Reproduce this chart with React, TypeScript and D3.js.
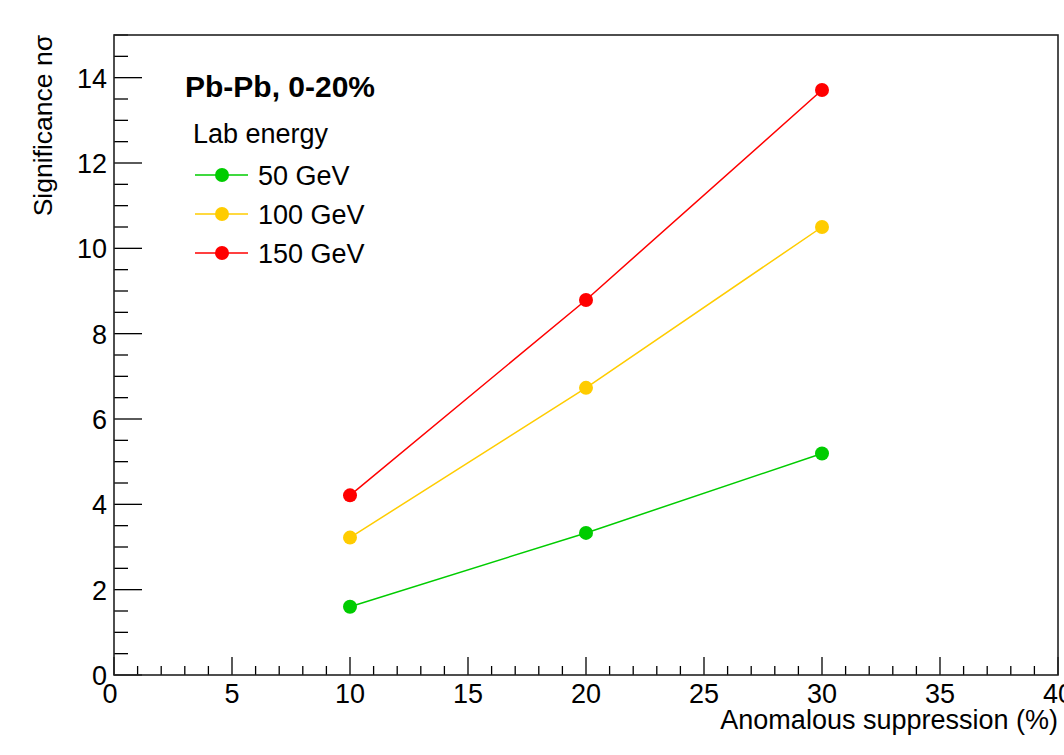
import React from "react";
import * as d3 from "d3";

const suppression = [10, 20, 30];
const sig50 = [1.6, 3.33, 5.19];
const sig100 = [3.22, 6.73, 10.5];
const sig150 = [4.21, 8.79, 13.71];
const seriesNames = ["50 GeV", "100 GeV", "150 GeV"];
const seriesColors = ["#00cc00", "#ffcc00", "#ff0000"];
const xTicks = [0, 5, 10, 15, 20, 25, 30, 35, 40];
const yTicks = [0, 2, 4, 6, 8, 10, 12, 14];

const W = 1064;
const H = 755;
const L = 114, R = 1058, T = 35, B = 675;
const FONT = "'Liberation Sans', Arial, Helvetica, sans-serif";

export default function App() {
  const x = d3.scaleLinear().domain([0, 40]).range([L, R]);
  const y = d3.scaleLinear().domain([0, 15]).range([B, T]);
  const series = [sig50, sig100, sig150];
  const line = d3
    .line<number>()
    .x((_, i) => x(suppression[i]))
    .y((d) => y(d));

  const xMinor = d3.range(0, 40.001, 1);
  const yMinor = d3.range(0, 15.001, 0.5);

  return (
    <svg
      width={W}
      height={H}
      style={{ position: "absolute", left: 0, top: 0, background: "#fff" }}
      fontFamily={FONT}
    >
      <rect x={0} y={0} width={W} height={H} fill="#fff" />
      {/* ticks */}
      {xMinor.map((v) => {
        const major = v % 5 === 0;
        return (
          <line
            key={"xt" + v}
            x1={x(v)}
            x2={x(v)}
            y1={B}
            y2={B - (major ? 18 : 9)}
            stroke="#000"
            strokeWidth={1.3}
          />
        );
      })}
      {yMinor.map((v) => {
        const major = Math.abs(v % 2) < 1e-6;
        return (
          <line
            key={"yt" + v}
            x1={L}
            x2={L + (major ? 28 : 14)}
            y1={y(v)}
            y2={y(v)}
            stroke="#000"
            strokeWidth={1.3}
          />
        );
      })}
      {/* frame */}
      <rect x={L} y={T} width={R - L} height={B - T} fill="none" stroke="#222" strokeWidth={1.6} />
      {/* tick labels */}
      {xTicks.map((v) => (
        <text
          key={"xl" + v}
          x={x(v) - (v === 0 ? 4 : 0)}
          y={703}
          fontSize={27}
          textAnchor="middle"
          fill="#000"
        >
          {v}
        </text>
      ))}
      {yTicks.map((v) => (
        <text
          key={"yl" + v}
          x={107}
          y={y(v) + 10}
          fontSize={27}
          textAnchor="end"
          fill="#000"
        >
          {v}
        </text>
      ))}
      {/* axis titles */}
      <text x={R} y={729} fontSize={27} textAnchor="end" fill="#000">
        Anomalous suppression (%)
      </text>
      <text
        transform={`translate(52,${T}) rotate(-90)`}
        fontSize={26.5}
        textAnchor="end"
        fill="#000"
      >
        Significance nσ
      </text>
      {/* series */}
      {series.map((s, k) => (
        <g key={"s" + k}>
          <path d={line(s) || ""} fill="none" stroke={seriesColors[k]} strokeWidth={1.5} />
          {s.map((v, i) => (
            <circle key={i} cx={x(suppression[i])} cy={y(v)} r={7} fill={seriesColors[k]} />
          ))}
        </g>
      ))}
      {/* legend */}
      <text x={185} y={97} fontSize={30} fontWeight="bold" fill="#000">
        Pb-Pb, 0-20%
      </text>
      <text x={193} y={143} fontSize={27} fill="#000">
        Lab energy
      </text>
      {seriesNames.map((n, k) => {
        const cy = 175 + k * 39;
        return (
          <g key={"lg" + k}>
            <line x1={195} x2={248} y1={cy} y2={cy} stroke={seriesColors[k]} strokeWidth={1.5} />
            <circle cx={222} cy={cy} r={7} fill={seriesColors[k]} />
            <text x={258} y={cy + 10} fontSize={27} fill="#000">
              {n}
            </text>
          </g>
        );
      })}
    </svg>
  );
}
